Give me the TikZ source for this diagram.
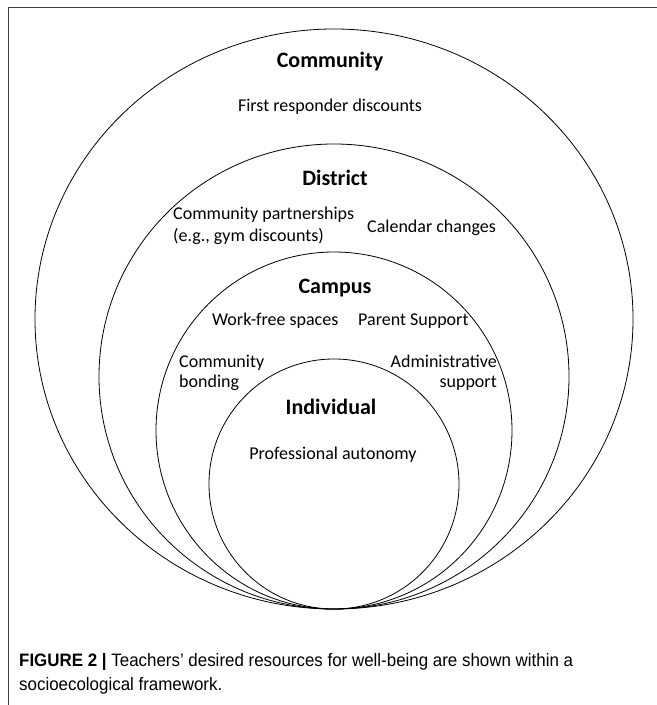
\documentclass[tikz,border=0pt]{standalone}
\usepackage{fontspec}
\setmainfont{Carlito}
\newfontfamily\capfont[FakeStretch=0.94]{Liberation Sans}
\usepackage{tikz}
\usetikzlibrary{positioning}

\begin{document}
\begin{tikzpicture}[x=1bp, y=-1bp]
	% Define styles
	\tikzset{
		ring/.style={draw, line width=0.8bp},
		frameline/.style={draw, line width=1bp, black!75},
		level/.style={font=\bfseries\fontsize{22bp}{26bp}\selectfont, inner sep=0pt},
		item/.style={font=\fontsize{18bp}{22bp}\selectfont, inner sep=0pt},
		caption/.style={font=\capfont\fontsize{18bp}{24bp}\selectfont, inner sep=0pt, anchor=base west}
	}
	\useasboundingbox (0,0) rectangle (657,705);
	
	% Frame
	\draw[frameline] (657,8) -- (8,8) -- (8,705);
	
	% Rings, all touching at the bottom
	\draw[ring] (334,319) ellipse [x radius=299bp, y radius=290bp];
	\draw[ring] (334,376.5) ellipse [x radius=235bp, y radius=232.5bp];
	\draw[ring] (334,430.5) ellipse [x radius=178bp, y radius=178.5bp];
	\draw[ring] (334,484) ellipse [x radius=125bp, y radius=125bp];
	
	% Community
	\node[level] (community) at (330,62) {Community};
	\node[item] (responder) at (330,107) {First responder discounts};
	
	% District
	\node[level] (district) at (335,178) {District};
	\node[item, anchor=west, align=left] (partner) at (173,226) {Community partnerships\\(e.g., gym discounts)};
	\node[item, anchor=west] (calendar) at (367,228) {Calendar changes};
	
	% Campus
	\node[level] (campus) at (335,288) {Campus};
	\node[item, anchor=west] (workfree) at (212,321) {Work-free spaces};
	\node[item, anchor=west] (parent) at (358,321) {Parent Support};
	\node[item, anchor=west, align=left, font=\fontsize{18bp}{20bp}\selectfont] (bonding) at (179,373) {Community\\bonding};
	\node[item, anchor=east, align=right, font=\fontsize{18bp}{20bp}\selectfont] (admin) at (497,373) {Administrative\\support};
	
	% Individual
	\node[level] (individual) at (331,407) {Individual};
	\node[item] (autonomy) at (333,455) {Professional autonomy};
	
	% Caption
	\node[caption] (cap1) at (19,666) {\textbf{FIGURE 2 |} Teachers’ desired resources for well-being are shown within a};
	\node[caption] (cap2) at (19,690) {socioecological framework.};
\end{tikzpicture}
\end{document}
